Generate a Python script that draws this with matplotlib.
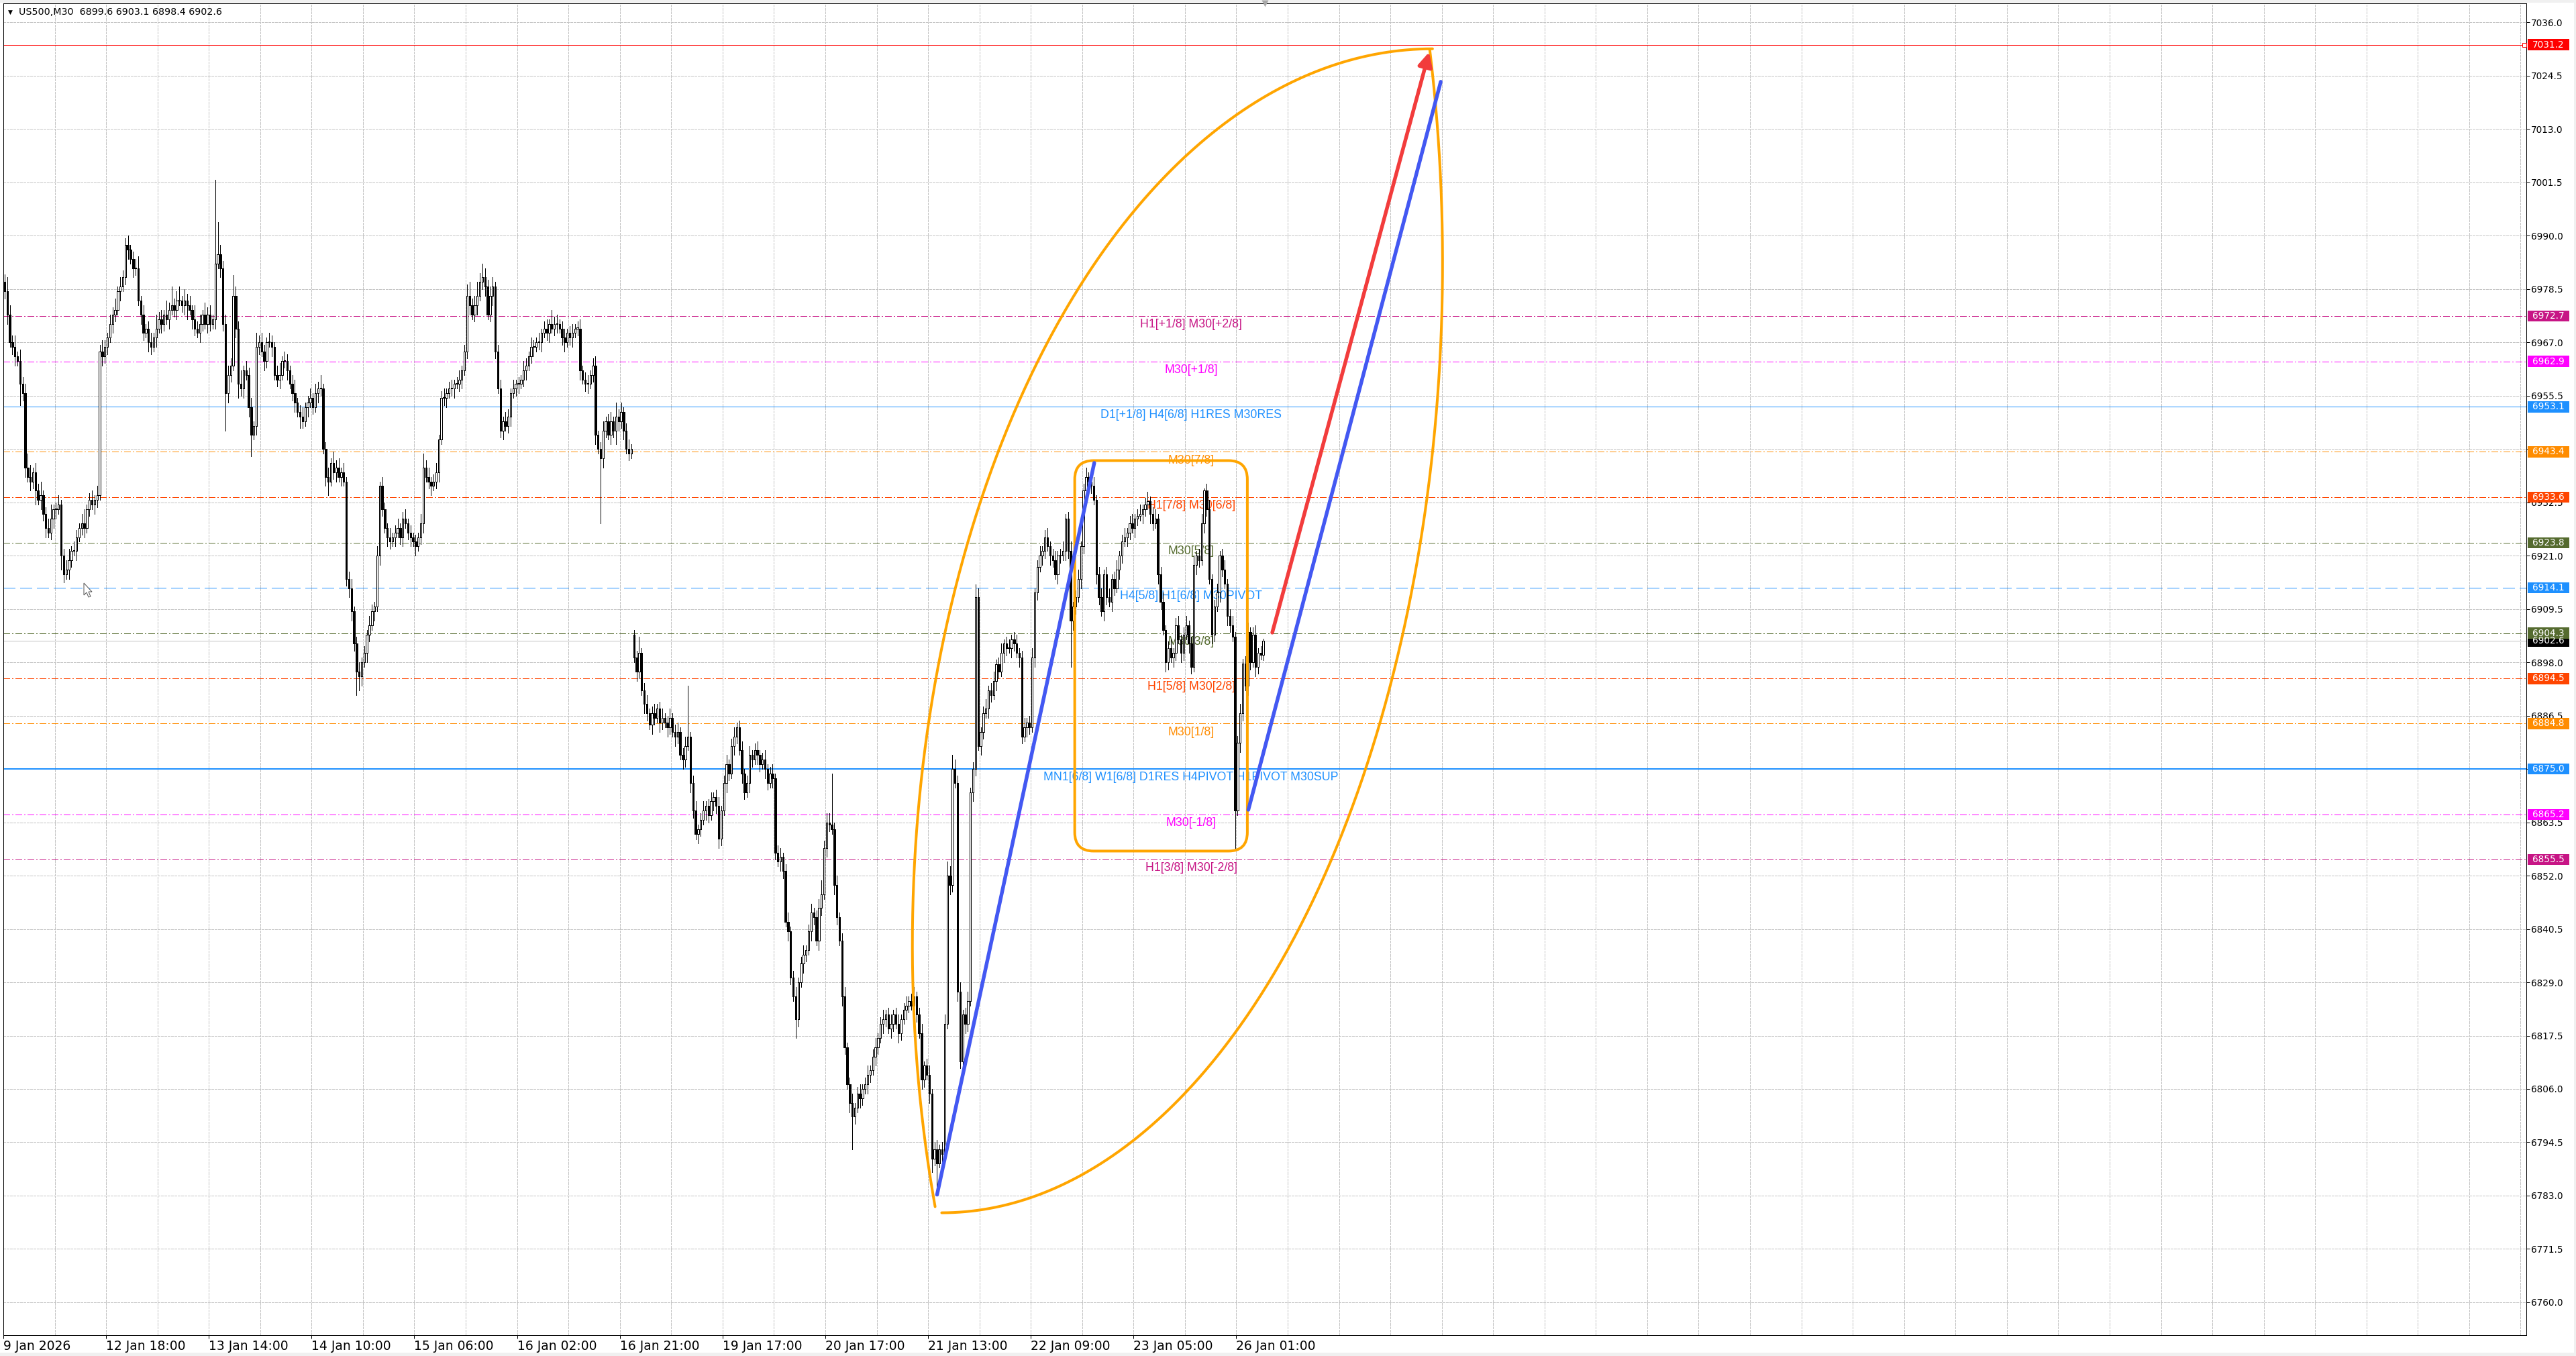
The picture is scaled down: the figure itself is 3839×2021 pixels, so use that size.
import numpy as np
import matplotlib.pyplot as plt
from matplotlib.patches import FancyBboxPatch, Rectangle, Polygon
from matplotlib.transforms import IdentityTransform

# ---- US500 M30 bars, closes (bar index 0 = 9 Jan) ----
close_a = [
    6978, 6973, 6967, 6966, 6964, 6963, 6958, 6956, 6940, 6938,
    6937, 6939, 6935, 6933, 6934, 6930, 6927, 6926, 6929, 6931,
    6931, 6932, 6921, 6917, 6918, 6920, 6922, 6922, 6925, 6927,
    6928, 6927, 6931, 6933, 6932, 6933, 6934, 6965, 6964, 6966,
    6968, 6971, 6973, 6974, 6978, 6979, 6981, 6988, 6987, 6985,
    6983, 6983, 6976, 6973, 6969, 6970, 6967, 6966, 6968, 6970,
    6972, 6971, 6973, 6972, 6974, 6975, 6974, 6976, 6976, 6975,
    6976, 6975, 6974, 6972, 6970, 6969, 6971, 6973, 6971, 6973,
    6971, 6972, 6984, 6986, 6983, 6971, 6956, 6960, 6962, 6977,
    6970, 6958, 6957, 6961, 6960, 6953, 6947, 6949, 6966, 6967,
    6965, 6963, 6967, 6967, 6966, 6960, 6959, 6960, 6963, 6963,
    6961, 6958, 6956, 6954, 6952, 6951, 6950, 6953, 6954, 6955,
    6953, 6956, 6957, 6957, 6944, 6938, 6937, 6941, 6939, 6940,
    6938, 6939, 6937, 6916, 6914, 6909, 6902, 6896, 6895, 6898,
    6900, 6904, 6906, 6909, 6910, 6921, 6936, 6931, 6927, 6925,
    6924, 6925, 6926, 6927, 6925, 6929, 6928, 6926, 6925, 6924,
    6923, 6925, 6928, 6940, 6938, 6937, 6936, 6937, 6939, 6946,
    6955, 6955, 6956, 6957, 6957, 6958, 6958, 6959, 6961, 6965,
    6977, 6975, 6973, 6975, 6977, 6980, 6981, 6979, 6973, 6977,
    6979, 6965, 6957, 6948, 6950, 6949, 6951, 6956, 6957, 6958,
    6958, 6959, 6961, 6962, 6964, 6966, 6966, 6967, 6967, 6969,
    6970, 6969, 6971, 6970, 6971, 6971, 6970, 6968, 6967, 6969,
    6968, 6969, 6970, 6970, 6961, 6959, 6958, 6958, 6960, 6962,
    6947, 6944, 6942, 6948, 6950, 6947, 6950, 6948, 6951, 6950,
    6952, 6948, 6944, 6943, 6944,
]
close_b = [
    6899, 6896, 6900, 6892, 6889, 6887, 6884.5, 6887, 6886, 6888,
    6885, 6886, 6885, 6884, 6886, 6883, 6882, 6883, 6878, 6877,
    6880, 6882, 6872, 6866, 6861, 6862, 6864, 6866, 6867, 6865,
    6868, 6869, 6867, 6860, 6866, 6872, 6876, 6874, 6880, 6882,
    6884, 6879, 6874, 6870, 6872, 6878, 6877, 6879, 6878, 6876,
    6877, 6875, 6872, 6874, 6873, 6857, 6855, 6856, 6853, 6842,
    6840, 6830, 6826, 6821, 6829, 6833, 6835, 6836, 6840, 6844,
    6843, 6838, 6845, 6848, 6858, 6863.5, 6863, 6862, 6850, 6843,
    6838, 6826, 6815, 6807, 6803, 6800, 6802, 6805, 6804, 6806,
    6807, 6809, 6810, 6813, 6815, 6817, 6820, 6821, 6822, 6819,
    6820, 6822, 6820, 6818, 6821, 6823, 6824, 6825, 6824, 6826,
    6822, 6818, 6808, 6811, 6809, 6805, 6791, 6793, 6790, 6793,
    6792, 6820, 6852, 6850, 6875, 6872, 6827, 6812, 6822, 6820,
    6825, 6870, 6875, 6912, 6880, 6883, 6887, 6888, 6892, 6891,
    6894, 6897.6, 6896, 6900, 6902, 6901, 6901, 6903, 6902, 6900,
    6899, 6882, 6884, 6885, 6884, 6899, 6913, 6918.5, 6921, 6922,
    6925, 6923, 6921, 6920, 6917, 6921, 6921, 6922, 6929, 6922,
    6907, 6910, 6912, 6916, 6923, 6935, 6938, 6937, 6936, 6933,
    6917, 6912, 6909, 6917, 6912, 6911, 6916, 6914, 6918, 6921,
    6924, 6925, 6926, 6928, 6927, 6929, 6929.5, 6930, 6931, 6932,
    6932.7, 6930, 6928, 6929, 6917, 6911, 6905, 6898, 6901, 6899,
    6900, 6906, 6903, 6900, 6904, 6906, 6902, 6897, 6919, 6921,
    6920, 6928, 6935, 6931, 6916, 6904, 6910, 6913, 6921, 6918,
    6915, 6908, 6906, 6903.5, 6866, 6880.6, 6887, 6897.8, 6893, 6904.5,
    6898, 6904, 6897, 6900, 6899.6, 6902.6,
]
# upper / lower shadow lengths (points)
wick_up_a = [
    1.7, 3, 2, 1.5, 2.5, 1, 2.5, 1.5, 2, 3,
    2.5, 1, 2, 1.5, 3, 1, 1.5, 2, 3, 1,
    1.5, 2, 1, 1.5, 2, 2.5, 1, 2, 1.5, 1,
    2, 3, 1, 1.5, 2, 1, 2, 1.5, 2.5, 1.5,
    1, 2, 1.5, 2.5, 1, 2, 1.5, 1.5, 2, 1,
    1.5, 2, 2.5, 1, 2, 1, 1.5, 2, 1, 3,
    1.5, 2, 1, 3, 1.5, 4, 1.5, 2, 3, 1,
    2.5, 1.5, 2, 1, 3, 1.5, 2, 1, 2.5, 1.5,
    2, 1, 18, 7, 2, 1.5, 2, 2, 1.5, 4.5,
    2, 1.5, 3, 1, 2, 1.5, 2, 1, 3, 1.5,
    2, 1.5, 1, 2, 1.5, 1, 2, 2.5, 1, 2,
    1.5, 1, 2, 3, 1, 1.5, 2, 1, 1.5, 2,
    1, 2, 1.5, 3, 1, 1.5, 2, 1, 2.5, 1.5,
    2, 1, 2, 1, 1.5, 2, 1, 1.5, 2, 1,
    1.5, 1, 2, 1.5, 1, 2, 1, 2, 1.5, 1,
    2, 1, 1.5, 2, 1, 1.5, 2, 1, 1.5, 1,
    1.5, 1, 2, 3, 1.5, 2, 1, 1.5, 2, 1,
    1.5, 2, 1, 1.5, 2, 1, 1.5, 2, 1, 1.5,
    2.5, 3, 1.5, 2, 3, 2, 3, 2, 1.5, 2,
    2, 1, 1.5, 2, 1, 2, 1.5, 1, 2, 1,
    1.5, 1, 2, 1.5, 1, 2, 1.5, 1, 2, 1,
    1.5, 2, 1, 3, 1.5, 2, 1, 1.5, 2, 1,
    1.5, 2, 1, 1.5, 2, 1, 1.5, 2, 1, 1.5,
    2, 1, 1.5, 2, 1, 1.5, 2, 1, 3, 1.5,
    2, 1, 1.5, 2, 1,
]
wick_dn_a = [
    1.5, 2, 1, 1.5, 2, 1, 4.5, 1.5, 2, 1,
    2, 1.5, 3, 1, 2, 1.5, 2, 1, 1.5, 2,
    2, 1, 3, 1.7, 1, 2, 1.5, 1, 2, 1,
    1.5, 2, 1, 1.5, 1, 2, 1.5, 1, 2, 1.5,
    1.5, 1, 2, 1.5, 1, 2, 1, 1.5, 2, 1,
    2, 1.5, 1, 2, 1.5, 1, 2, 1.5, 1, 2,
    1, 2, 1.5, 1, 2, 1, 1.5, 2, 1, 1.5,
    2, 3, 1, 2, 1.5, 1, 2, 1.5, 1, 2,
    1.5, 1, 2, 1, 2, 1.5, 8, 2, 1.5, 1,
    2, 3, 1.5, 2, 1, 2, 4.5, 1, 2, 1.5,
    1, 2, 1.5, 1, 2, 1, 1.5, 2, 1, 1.5,
    2, 1, 1.5, 2, 1, 2.5, 1.5, 1, 2, 1,
    1.5, 1, 2, 1.5, 1, 2, 3, 1, 1.5, 2,
    1, 2, 1, 1.5, 2, 2, 1.5, 5, 3, 2,
    1, 2, 1.5, 1, 2, 1, 2, 1.5, 1, 2,
    1.5, 1, 2, 1, 1.5, 2, 1, 1.5, 2, 1,
    2, 1, 1.5, 2, 1, 1.5, 2, 1, 1.5, 2,
    1, 1.5, 2, 1, 1.5, 2, 1, 1.5, 2, 1,
    1.5, 2, 1, 1.5, 2, 1, 1.5, 2, 1, 1.5,
    2, 1.5, 1, 1.5, 2, 1, 1.5, 2, 1, 1.5,
    2, 1, 1.5, 2, 1, 1.5, 2, 1, 1.5, 2,
    1, 1.5, 2, 1, 1.5, 2, 1, 1.5, 2, 1,
    1.5, 2, 1, 1.5, 2, 1, 1.5, 2, 1, 1.5,
    2, 1, 14, 2, 1.5, 1, 2, 1.5, 3, 2,
    1.5, 2, 1, 1.5, 1,
]
wick_up_b = [
    1, 1.5, 3.5, 1, 1.5, 2, 1, 1.5, 2, 1,
    1.5, 2, 1, 1.5, 2, 1, 1.5, 2, 1, 1.5,
    2, 11, 1, 1.5, 2, 1, 1.5, 2, 1, 1.5,
    2, 1, 1.5, 2, 1, 1.5, 2, 1, 1.5, 2,
    1, 1.5, 2, 1, 1.5, 2, 1, 1.5, 2, 1,
    1.5, 2, 1, 1.5, 2, 1, 1.5, 2, 1, 1.5,
    2, 1, 1.5, 2, 1, 1.5, 2, 1, 1.5, 2,
    1, 1.5, 2, 3, 1.5, 2, 2, 11, 1.5, 2,
    1, 1.5, 2, 1, 1.5, 2, 1, 1.5, 2, 1,
    1.5, 2, 1, 1.5, 2, 1, 1.5, 2, 1, 1.5,
    2, 1, 1.5, 2, 1, 1.5, 2, 1, 1.5, 2,
    1, 1.5, 2, 1, 1.5, 2, 1, 1.5, 2, 1,
    1.5, 2, 3, 2, 3, 2, 1.5, 2, 1, 1.5,
    2, 1, 1.5, 2.8, 2, 1, 1.5, 2, 1, 1.5,
    2, 1, 1.5, 2, 1, 1.5, 2, 1, 1.5, 2,
    1, 1.5, 2, 1, 1.5, 2, 1, 1.5, 2, 1,
    1.5, 2, 1, 1.5, 2, 1, 1.5, 2, 1, 1.5,
    2, 1, 1.5, 2, 1, 1.5, 2, 1, 1.5, 2,
    1, 1.5, 2, 1, 1.5, 2, 1, 1.5, 2, 1,
    1.5, 2, 1, 1.5, 2, 1, 1.5, 2, 1, 1.5,
    2, 1, 1.5, 2, 1, 1.5, 2, 1, 1.5, 2,
    1, 1.5, 2, 1, 1.5, 2, 1, 1.5, 2, 1,
    1.5, 2, 0.5, 1.5, 2, 1, 1.5, 2, 1, 1.5,
    2, 1, 1.5, 2, 1, 1.5, 2, 1, 1.5, 2,
    1, 1.5, 2, 1, 1.5, 0.5,
]
wick_dn_b = [
    1, 2, 1.5, 1, 2, 1.5, 1, 2, 1.5, 1,
    2, 1.5, 1, 2, 1.5, 1, 2, 1.5, 1, 2,
    1.5, 1, 2, 1.5, 1.2, 2, 1.5, 1, 2, 1.5,
    1, 2, 1.5, 2, 1.5, 1, 2, 1.5, 1, 2,
    1.5, 1, 2, 1.5, 1, 2, 1.5, 1, 2, 1.5,
    1, 2, 1.5, 1, 2, 1.5, 1, 2, 1.5, 1,
    2, 1.5, 1, 4, 1.5, 1, 2, 1.5, 1, 2,
    1.5, 1, 2, 1.5, 1, 2, 1.5, 1, 2, 1.5,
    1, 2, 1.5, 1, 2, 7, 1.5, 1, 2, 1.5,
    1, 2, 1.5, 1, 2, 1.5, 1, 2, 1.5, 1,
    2, 1.5, 1, 2, 1.5, 1, 2, 1.5, 1, 2,
    1.5, 1, 2, 1.5, 1, 2, 3, 1.5, 5, 1,
    2, 1.5, 1, 2, 1.5, 1, 2, 1.5, 1, 2,
    1.5, 1, 2, 1.5, 1, 2, 1.5, 1, 2, 1.5,
    1, 2, 1.5, 1, 2, 1.5, 1, 2, 1.5, 1,
    2, 1.5, 1, 2, 1.5, 1, 2, 1.5, 1, 2,
    1.5, 1, 2, 1.5, 1, 2, 1.5, 1, 2, 1.5,
    10, 2, 1.5, 1, 2, 1.5, 1, 2, 1.5, 1,
    2, 1.5, 1, 2, 1.5, 1, 2, 1.5, 1, 2,
    1.5, 1, 2, 1.5, 1, 2, 1.5, 1, 2, 1.5,
    1, 2, 1.5, 1, 2, 1.5, 1, 2, 1.5, 1,
    2, 1.5, 1, 2, 1.5, 1, 2, 1.5, 1, 2,
    1.5, 1, 2, 1.5, 1, 2, 1.5, 1, 2, 1.5,
    1, 2, 1.5, 1, 8, 1, 2, 1.5, 1, 2,
    1.5, 1, 2, 1.5, 1, 1.2,
]
first_open = 6980.0
gap_open = 6904.0        # first bar after the weekend gap

# ---- horizontal levels ----
level_price = [6972.7, 6962.9, 6953.1, 6943.4, 6933.6, 6923.8, 6914.1,
               6904.3, 6894.5, 6884.8, 6875.0, 6865.2, 6855.5]
level_color = ['#C71585', '#FF00FF', '#1E90FF', '#FF8C00', '#FF4500',
               '#556B2F', '#1E90FF', '#556B2F', '#FF4500', '#FF8C00',
               '#1E90FF', '#FF00FF', '#C71585']
level_style = ['dashdot', 'dashdot', 'solid', 'dashdot', 'dashdot', 'dashdot',
               'dash', 'dashdot', 'dashdot', 'dashdot', 'solid2', 'dashdot',
               'dashdot']
level_name = ['H1[+1/8] M30[+2/8]', 'M30[+1/8]', 'D1[+1/8] H4[6/8] H1RES M30RES',
              'M30[7/8]', 'H1[7/8] M30[6/8]', 'M30[5/8]',
              'H4[5/8] H1[6/8] M30PIVOT', 'M30[3/8]', 'H1[5/8] M30[2/8]',
              'M30[1/8]', 'MN1[6/8] W1[6/8] D1RES H4PIVOT H1PIVOT M30SUP',
              'M30[-1/8]', 'H1[3/8] M30[-2/8]']
alert_price = 7031.2
bid_price = 6902.6

# ---- time axis ----
date_bar = [0, 40, 80, 120, 160, 200, 240, 280, 320, 360, 400, 440, 480]
date_text = ['9 Jan 2026', '12 Jan 18:00', '13 Jan 14:00', '14 Jan 10:00',
             '15 Jan 06:00', '16 Jan 02:00', '16 Jan 21:00', '19 Jan 17:00',
             '20 Jan 17:00', '21 Jan 13:00', '22 Jan 09:00', '23 Jan 05:00',
             '26 Jan 01:00']
price_ticks = np.arange(6760.0, 7040.0, 11.5)

# ---- drawn objects (bar index, price) ----
blue_trends = [((363.0, 6783.2), (424.2, 6941.0)),
               ((484.2, 6866.2), (559.1, 7023.2))]
red_trend = ((493.5, 6904.4), (554.6, 7029.6))
range_box = (416.6, 6857.3, 483.8, 6941.5)
# lens made of two elliptic arcs: centre bar, centre price, semi-axes, angles
lens_arcs = [(555.9, 6837.1, 202.5, 193.2, 90, 197),
             (364.8, 6984.1, 195.0, 204.8, -90, 13)]

# ---------------------------------------------------------------
W, H, DPI = 3839, 2021, 100
PX = 72 / DPI
BAR_PX = 3.828
fig = plt.figure(figsize=(W / DPI, H / DPI), dpi=DPI, facecolor='#F0F0F0')
fig.patches.append(Rectangle((0, 5 / H), 3836 / W, 2012 / H, transform=fig.transFigure,
                             facecolor='white', edgecolor='none', zorder=-1))
ax = fig.add_axes([5 / W, (H - 1990) / H, 3760 / W, 1985 / H])
ax.set_facecolor('white')
ax.set_xlim(-0.5, -0.5 + 3760 / BAR_PX)
ax.set_ylim(6752.9, 7040.1)

for s in ax.spines.values():
    s.set_color('black')
    s.set_linewidth(PX)

# axes ticks / grid
ax.yaxis.tick_right()
ax.set_yticks(price_ticks)
ax.set_yticklabels(['%.1f' % p for p in price_ticks])
ax.tick_params(axis='y', direction='out', length=5 * PX, width=PX, pad=2 * PX,
               labelsize=9.8, colors='black')
ax.set_xticks(np.array(date_bar) - 0.5)
ax.set_xticklabels(date_text)
minor = [b - 0.5 for b in range(20, 1000, 20) if b not in date_bar]
ax.set_xticks(minor, minor=True)
ax.tick_params(axis='x', which='major', direction='out', length=5 * PX, width=PX,
               pad=2 * PX, labelsize=13.5)
ax.tick_params(axis='x', which='minor', length=0)
for lbl in ax.get_xticklabels():
    lbl.set_ha('left')
    lbl.set_family(['Liberation Sans Narrow', 'DejaVu Sans Condensed', 'DejaVu Sans'])
for lbl in ax.get_yticklabels():
    lbl.set_family('DejaVu Sans')
ax.grid(True, which='both', color='#C4C4C4', linestyle=(0, (3, 2)), linewidth=PX,
        antialiased=False)

# level lines and their captions
dash_map = {'dashdot': (0, (10, 3, 2, 3)), 'dash': (0, (18, 7)), 'solid': '-', 'solid2': '-'}
label_bar = 461.9
for p, c, st, name in zip(level_price, level_color, level_style, level_name):
    ax.axhline(p, color=c, linestyle=dash_map[st], linewidth=(2 if st == 'solid2' else 1) * PX,
               zorder=1.8, antialiased=False)
    ax.annotate(name, xy=(label_bar, p), xytext=(0, -3), textcoords='offset points',
                ha='center', va='top', color=c, fontsize=12.8, family='Liberation Sans',
                zorder=2)
ax.axhline(alert_price, color='#FF0000', linewidth=PX, zorder=1.8, antialiased=False)
ax.axhline(bid_price, color='#C0C0C0', linewidth=PX, zorder=1.7, antialiased=False)
ax.plot([1.0 - 3 / 3760], [alert_price], marker='s', ms=4, mfc='white', mec='#FF0000',
        mew=PX, transform=ax.get_yaxis_transform(), clip_on=False, zorder=3)

# candles
closes = np.array(close_a + close_b, dtype=float)
n = len(closes)
opens = np.r_[first_open, closes[:-1]]
opens[len(close_a)] = gap_open
highs = np.maximum(opens, closes) + np.array(wick_up_a + wick_up_b)
lows = np.minimum(opens, closes) - np.array(wick_dn_a + wick_dn_b)
idx = np.arange(n)
ax.vlines(idx, lows, highs, color='black', linewidth=PX, zorder=5, antialiased=False)
body = np.maximum(np.abs(closes - opens), 0.15)
bull = closes >= opens
ax.bar(idx[bull], body[bull], bottom=opens[bull], width=0.62, facecolor='white',
       edgecolor='black', linewidth=PX, zorder=6, antialiased=False)
ax.bar(idx[~bull], body[~bull], bottom=closes[~bull], width=0.62, facecolor='black',
       edgecolor='black', linewidth=PX, zorder=6, antialiased=False)

# drawn objects
x0, y0, x1, y1 = range_box
ax.add_patch(FancyBboxPatch((x0, y0), x1 - x0, y1 - y0,
                            boxstyle='round,pad=0,rounding_size=7.3',
                            mutation_aspect=BAR_PX / 6.912, facecolor='none',
                            edgecolor='#FFA500', linewidth=4 * PX, zorder=8))
for cx, cy, a, b, t0, t1 in lens_arcs:
    t = np.radians(np.linspace(t0, t1, 300))
    ax.plot(cx + a * np.cos(t), cy + b * np.sin(t), color='#FFA500', linewidth=4 * PX,
            zorder=8, solid_capstyle='round')
for (xa, ya), (xb, yb) in blue_trends:
    ax.plot([xa, xb], [ya, yb], color='#4358F2', linewidth=5.5 * PX, zorder=9,
            solid_capstyle='round')
(xa, ya), (xb, yb) = red_trend
ax.annotate('', xy=(xb, yb), xytext=(xa, ya),
            arrowprops=dict(arrowstyle='-|>,head_length=0.7,head_width=0.35',
                            color='#F23C3C', linewidth=5.5 * PX, mutation_scale=18,
                            shrinkA=0, shrinkB=0), zorder=9)

# price boxes on the right scale
ytr = ax.get_yaxis_transform()
box_x0 = 1 + 2 / 3760
box_w = 62 / 3760
box_h = 16.5 / 6.912
boxes = [(bid_price, '#000000')] + list(zip(level_price, level_color)) + [(alert_price, '#FF0000')]
for p, c in boxes:
    ax.add_patch(Rectangle((box_x0, p - box_h / 2), box_w, box_h, transform=ytr,
                           facecolor=c, edgecolor='none', clip_on=False, zorder=3))
    ax.text(box_x0 + box_w / 2, p, '%.1f' % p, transform=ytr, ha='center', va='center',
            color='white', fontsize=9.8, family='DejaVu Sans', clip_on=False, zorder=4)

# chart shift marker
ax.plot([n - 0.5], [1.0], marker='v', ms=7, color='#A8A8A8', mec='none',
        transform=ax.get_xaxis_transform(), clip_on=False, zorder=10)

# mouse pointer left on the chart (pixel outline, tip at 125, 869 from top)
tip_x, tip_y = 125, H - 869
cursor = [(0, 0), (0, -18), (4, -14), (7, -21), (10, -20), (7, -13), (12, -13)]
fig.patches.append(Polygon([(tip_x + dx, tip_y + dy) for dx, dy in cursor], closed=True,
                           transform=IdentityTransform(), facecolor='white',
                           edgecolor='#555555', linewidth=PX, zorder=20))

# header
fig.text(12 / W, 1 - 18 / H, '\u25BC', fontsize=6.5, family='DejaVu Sans',
         va='center', ha='left', color='black')
fig.text(28 / W, 1 - 18 / H, 'US500,M30  6899.6 6903.1 6898.4 6902.6', fontsize=10.3,
         family='DejaVu Sans', va='center', ha='left', color='black')

fig.savefig('out.png', dpi=DPI, facecolor=fig.get_facecolor())
